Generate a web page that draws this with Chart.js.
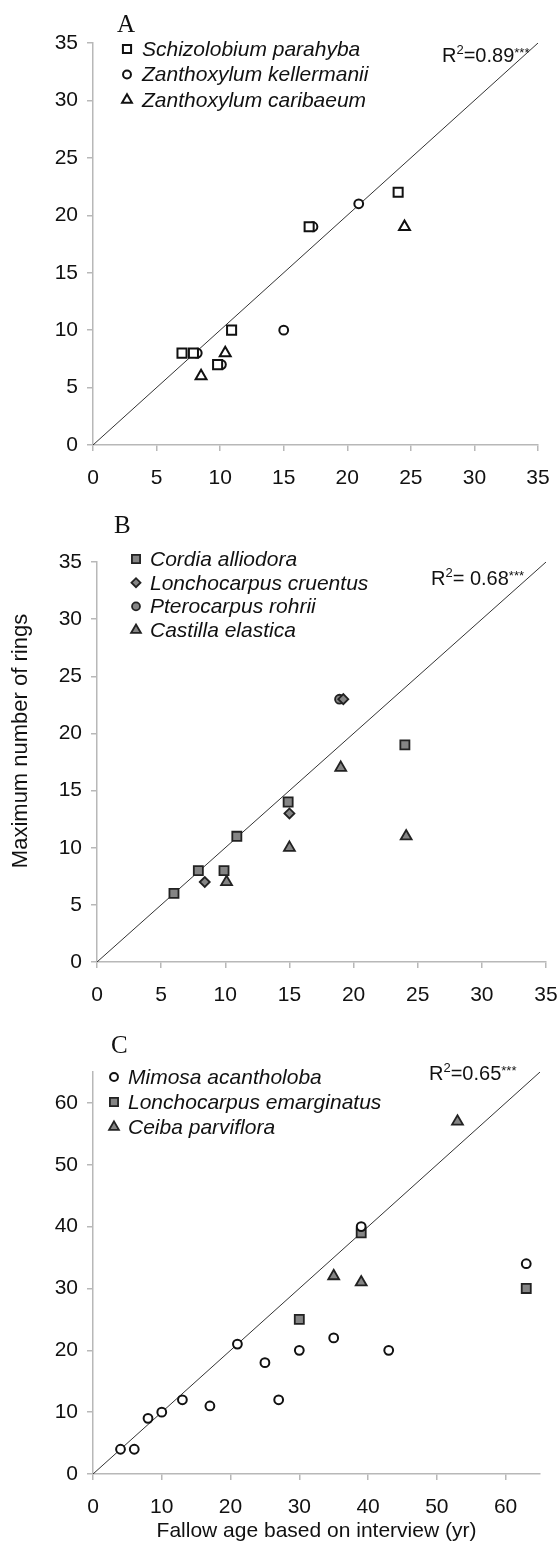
<!DOCTYPE html>
<html lang="en">
<head>
  <meta charset="UTF-8">
  <title>Fallow age vs maximum number of rings</title>
  <style>
    body { margin: 0; background: #fff; }
    .wrap { position: relative; width: 557px; height: 1544px; }
    .panel { position: absolute; left: 0; width: 557px; }
    canvas { display: block; }
  </style>
</head>
<body>
  <div class="wrap">
    <div class="panel" style="top:0"><canvas id="chartA" width="557" height="500"></canvas></div>
    <div class="panel" style="top:500px"><canvas id="chartB" width="557" height="520"></canvas></div>
    <div class="panel" style="top:1020px"><canvas id="chartC" width="557" height="524"></canvas></div>
  </div>

  <script src="https://cdn.jsdelivr.net/npm/chart.js"></script>
  <script>
    // Panel A
    const schizoX = [7, 7.9, 9.8, 10.9, 17, 24];
    const schizoY = [8, 8, 7, 10, 19, 22];
    const zkellX = [8.2, 10.1, 15, 17.3, 20.9];
    const zkellY = [8, 7, 10, 19, 21];
    const zcaribX = [8.5, 10.4, 24.5];
    const zcaribY = [6, 8, 19];

    // Panel B
    const cordiaX = [6, 7.9, 9.9, 10.9, 14.9, 24];
    const cordiaY = [6, 8, 8, 11, 14, 19];
    const lcruentX = [8.4, 15, 19.2];
    const lcruentY = [7, 13, 23];
    const pteroX = [18.9];
    const pteroY = [23];
    const castillaX = [10.1, 15, 19, 24.1];
    const castillaY = [7, 10, 17, 11];

    // Panel C
    const mimosaX = [4, 6, 8, 10, 13, 17, 21, 25, 27, 30, 35, 43, 39, 63];
    const mimosaY = [4, 4, 9, 10, 12, 11, 21, 18, 12, 20, 22, 20, 40, 34];
    const lemargX = [30, 39, 63];
    const lemargY = [25, 39, 30];
    const ceibaX = [35, 39, 53];
    const ceibaY = [32, 31, 57];

    // 1:1 lines
    const lineAB = [0, 35];
    const lineC = [0, 65];

    const ticksAB = [0, 5, 10, 15, 20, 25, 30, 35];
    const ticksC = [0, 10, 20, 30, 40, 50, 60];

    const SANS = '"Liberation Sans", Arial, sans-serif';
    Chart.defaults.font.family = SANS;
    Chart.defaults.font.size = 21;
    Chart.defaults.color = '#111';

    const pts = (xs, ys) => xs.map((x, i) => ({ x: x, y: ys[i] }));

    const OPEN = { backgroundColor: '#fff', borderColor: '#111', borderWidth: 2 };
    const GRAY = { backgroundColor: '#858585', borderColor: '#222', borderWidth: 1.8 };
    const SIZE = { rect: 6.4, circle: 4.4, triangle: 6.3, rectRot: 5 };

    function series(label, xs, ys, style, look) {
      return Object.assign({
        type: 'scatter', label: label, data: pts(xs, ys),
        pointStyle: style, pointRadius: SIZE[style], pointHoverRadius: SIZE[style]
      }, look);
    }

    function oneToOne(ends) {
      return {
        type: 'line', label: '1:1', data: pts(ends, ends),
        borderColor: '#333', borderWidth: 1, pointRadius: 0, fill: false
      };
    }

    // draws the panel letter, R² text, in-plot legend and (panel B) y title
    const panelDecor = {
      id: 'panelDecor',
      afterDraw(chart, args, o) {
        const ctx = chart.ctx;
        ctx.save();
        ctx.fillStyle = '#111';
        ctx.textAlign = 'left';
        ctx.textBaseline = 'alphabetic';

        ctx.font = '25px "Liberation Serif", "Times New Roman", serif';
        ctx.fillText(o.letter, o.letterX, o.letterY);

        const big = '20px ' + SANS, small = '13px ' + SANS;
        let x = o.r2X;
        ctx.font = big; ctx.fillText('R', x, o.r2Y); x += ctx.measureText('R').width;
        ctx.font = small; ctx.fillText('2', x, o.r2Y - 8); x += ctx.measureText('2').width;
        ctx.font = big; ctx.fillText(o.r2Value, x, o.r2Y); x += ctx.measureText(o.r2Value).width;
        ctx.font = small; ctx.fillText('***', x, o.r2Y - 5);

        let row = 0;
        chart.data.datasets.forEach(ds => {
          if (ds.type === 'line') return;
          const y = o.legendY + row * o.legendStep;
          ctx.fillStyle = ds.backgroundColor;
          ctx.strokeStyle = ds.borderColor;
          ctx.lineWidth = ds.borderWidth;
          Chart.helpers.drawPoint(ctx, {
            pointStyle: ds.pointStyle, radius: ds.pointRadius * 0.9,
            borderWidth: ds.borderWidth, rotation: 0
          }, o.legendMarkX, y);
          ctx.fillStyle = '#111';
          ctx.font = 'italic 21px ' + SANS;
          ctx.textBaseline = 'middle';
          ctx.fillText(ds.label, o.legendTextX, y + 1);
          ctx.textBaseline = 'alphabetic';
          row++;
        });

        if (o.yTitle) {
          ctx.translate(o.yTitleX, o.yTitleY);
          ctx.rotate(-Math.PI / 2);
          ctx.textAlign = 'center';
          ctx.textBaseline = 'middle';
          ctx.font = '22px ' + SANS;
          ctx.fillText(o.yTitle, 0, 0);
        }
        ctx.restore();
      }
    };

    function axis(max, tickVals, fit, pad, extra) {
      return Object.assign({
        type: 'linear', min: 0, max: max,
        afterBuildTicks: s => { s.ticks = tickVals.map(v => ({ value: v })); },
        afterFit: fit,
        border: { display: true, color: '#b8b8b8', width: 1.5 },
        grid: { display: true, drawOnChartArea: false, drawTicks: true, tickLength: 6, color: '#b8b8b8', lineWidth: 1.5 },
        ticks: { padding: pad, color: '#111', font: { size: 21 } }
      }, extra || {});
    }

    function makePanel(id, datasets, p) {
      return new Chart(document.getElementById(id), {
        data: { datasets: datasets },
        options: {
          responsive: false,
          animation: false,
          layout: { padding: { top: p.top, right: p.right, left: 0, bottom: 0 } },
          plugins: { legend: { display: false }, tooltip: { enabled: false }, panelDecor: p.decor },
          scales: {
            x: axis(p.xMax, p.xTicks, s => { s.height = p.xHeight; s.paddingLeft = 0; s.paddingRight = 0; }, 15,
              p.xTitle ? { title: { display: true, text: p.xTitle, font: { size: 21 }, color: '#111', padding: { top: 0, bottom: 0 } } } : null),
            y: axis(p.yMax, p.yTicks, s => { s.width = p.yWidth; s.paddingTop = 0; s.paddingBottom = 0; }, 9)
          }
        },
        plugins: [panelDecor]
      });
    }

    makePanel('chartA', [
      series('Schizolobium parahyba', schizoX, schizoY, 'rect', OPEN),
      series('Zanthoxylum kellermanii', zkellX, zkellY, 'circle', OPEN),
      series('Zanthoxylum caribaeum', zcaribX, zcaribY, 'triangle', OPEN),
      oneToOne(lineAB)
    ], {
      top: 43, right: 19, yWidth: 93, xHeight: 55,
      xMax: 35, yMax: 35, xTicks: ticksAB, yTicks: ticksAB,
      decor: {
        letter: 'A', letterX: 117, letterY: 32,
        r2X: 442, r2Y: 62, r2Value: '=0.89',
        legendMarkX: 127, legendTextX: 142, legendY: 49, legendStep: 25.5
      }
    });

    makePanel('chartB', [
      series('Cordia alliodora', cordiaX, cordiaY, 'rect', GRAY),
      series('Lonchocarpus cruentus', lcruentX, lcruentY, 'rectRot', GRAY),
      series('Pterocarpus rohrii', pteroX, pteroY, 'circle', GRAY),
      series('Castilla elastica', castillaX, castillaY, 'triangle', GRAY),
      oneToOne(lineAB)
    ], {
      top: 62, right: 11, yWidth: 97, xHeight: 58,
      xMax: 35, yMax: 35, xTicks: ticksAB, yTicks: ticksAB,
      decor: {
        letter: 'B', letterX: 114, letterY: 33,
        r2X: 431, r2Y: 85, r2Value: '= 0.68',
        legendMarkX: 136, legendTextX: 150, legendY: 59, legendStep: 23.7,
        yTitle: 'Maximum number of rings', yTitleX: 21, yTitleY: 241
      }
    });

    makePanel('chartC', [
      series('Mimosa acantholoba', mimosaX, mimosaY, 'circle', OPEN),
      series('Lonchocarpus emarginatus', lemargX, lemargY, 'rect', GRAY),
      series('Ceiba parviflora', ceibaX, ceibaY, 'triangle', GRAY),
      oneToOne(lineC)
    ], {
      top: 52, right: 17, yWidth: 93, xHeight: 70,
      xMax: 65, yMax: 65, xTicks: ticksC, yTicks: ticksC,
      xTitle: 'Fallow age based on interview (yr)',
      decor: {
        letter: 'C', letterX: 111, letterY: 33,
        r2X: 429, r2Y: 60, r2Value: '=0.65',
        legendMarkX: 114, legendTextX: 128, legendY: 57, legendStep: 25
      }
    });
  </script>
</body>
</html>
